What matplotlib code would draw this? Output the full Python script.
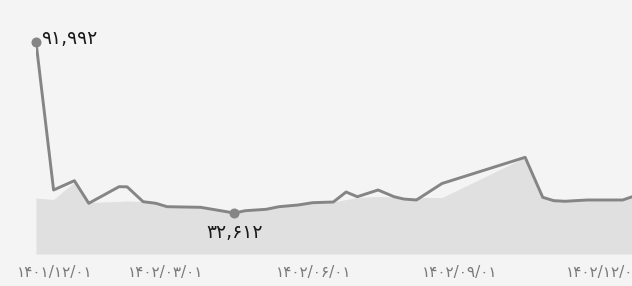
import matplotlib
matplotlib.use("Agg")
import matplotlib.pyplot as plt
from matplotlib.transforms import offset_copy

# x: days since 1401/12/01
days = [10, 21, 34, 43, 62, 67, 77, 85, 92, 113, 134, 141, 154, 162, 174, 183,
        196, 204, 211, 224, 234, 240, 248, 264, 316, 327, 334, 341, 355, 377, 388]
price = [91992, 40600, 43830, 35980, 41750, 41700, 36540, 35980, 34800, 34590,
         32612, 33410, 33900, 34800, 35390, 36190, 36430, 39900, 38270, 40600,
         38270, 37470, 37130, 42860, 51950, 38060, 36880, 36680, 37130, 37130, 39210]
baseline = [37820, 37300, 43380, 36260, 36600, 36780, 36540, 35980, 34800, 34590,
            32612, 33410, 33900, 34800, 35390, 36190, 36430, 37300, 37990, 38340,
            38170, 37650, 37990, 37990, 51950, 37990, 37470, 37300, 37470, 37470, 38520]
tick_days = [0, 91, 184, 275, 365]
tick_labels = ["۱۴۰۱/۱۲/۰۱", "۱۴۰۲/۰۳/۰۱", "۱۴۰۲/۰۶/۰۱", "۱۴۰۲/۰۹/۰۱", "۱۴۰۲/۱۲/۰۱"]

FA = str.maketrans("0123456789", "۰۱۲۳۴۵۶۷۸۹")
def fa(n):
    return f"{n:,}".translate(FA)

W, H = 632, 286
fig = plt.figure(figsize=(W/100, H/100), dpi=100)
fig.patch.set_facecolor("#f4f4f4")
ax = fig.add_axes([36/W, (H-254)/H, (632-36)/W, (254-30)/H])
ax.set_facecolor("#f4f4f4")

ymin, ymax = 18375, 96159
ax.fill_between(days, baseline, ymin, color="#e0e0e0", lw=0, zorder=1)
ax.plot(days, price, color="#858585", lw=2.1, zorder=3, solid_joinstyle="round")

imax = price.index(max(price))
imin = price.index(min(price))
ax.plot([days[imax], days[imin]], [price[imax], price[imin]], "o",
        color="#858585", ms=6.2, zorder=4, clip_on=False)

ax.annotate(fa(price[imax]), (days[imax], price[imax]), xytext=(4, 2.5),
            textcoords="offset points", ha="left", va="center",
            fontsize=13.5, color="#1a1a1a", family="DejaVu Sans")
ax.annotate(fa(price[imin]), (days[imin], price[imin]), xytext=(0, -14),
            textcoords="offset points", ha="center", va="center",
            fontsize=13.5, color="#1a1a1a", family="DejaVu Sans")

x0 = 10
x1 = x0 + (632 - 36) / 1.5985
ax.set_xlim(x0, x1)
ax.set_ylim(ymin, ymax)
ax.set_yticks([])
ax.set_xticks([])
for s in ax.spines.values():
    s.set_visible(False)

for d, lab in zip(tick_days, tick_labels):
    ha = "center"
    if d < x0:
        ha = "left"
    t = ax.text(d, 0, lab, ha=ha, va="center",
                fontsize=11, color="#7a7a7a", clip_on=False)
    t.set_transform(offset_copy(ax.get_xaxis_transform(), fig=fig, x=-3 if ha == "left" else 0,
                                y=-18, units="dots"))

fig.savefig("out.png", dpi=100, facecolor=fig.get_facecolor())
